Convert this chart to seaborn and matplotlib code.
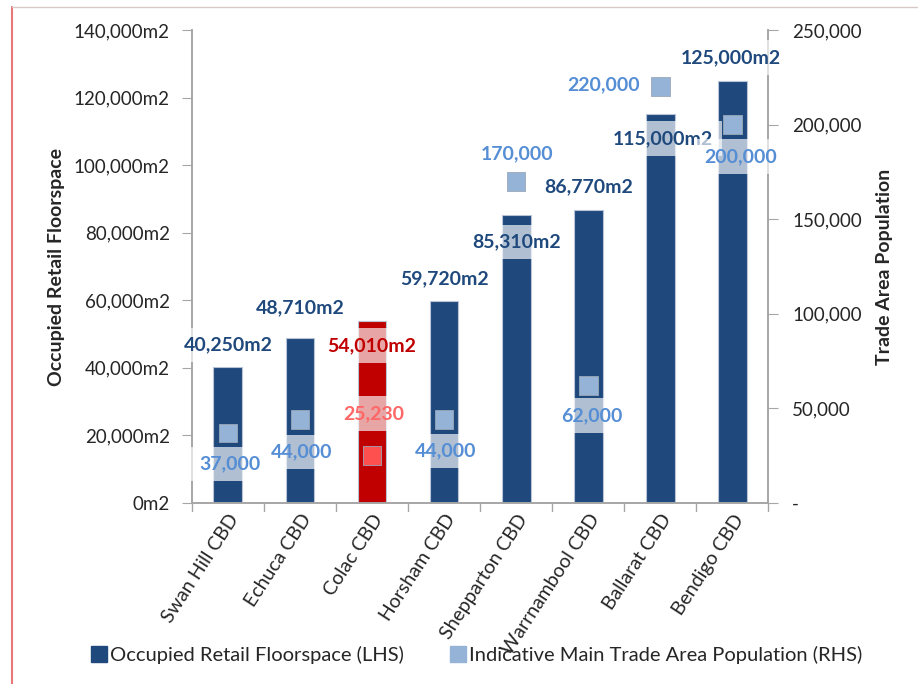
import numpy as np
import matplotlib
matplotlib.use("Agg")
import matplotlib.pyplot as plt
import seaborn as sns
from matplotlib.lines import Line2D
from matplotlib.ticker import FuncFormatter

# data
centres = ["Swan Hill CBD", "Echuca CBD", "Colac CBD", "Horsham CBD",
           "Shepparton CBD", "Warrnambool CBD", "Ballarat CBD", "Bendigo CBD"]
floorspace = [40250, 48710, 54010, 59720, 85310, 86770, 115000, 125000]
population = [37000, 44000, 25230, 44000, 170000, 62000, 220000, 200000]

# label offsets in pixels (dx, dy) as placed in the original
floor_lbl_off = [(0, 22), (0, 31), (0, -25), (0, 23), (0, -27), (0, 23), (3, -24), (-2, 23)]
pop_lbl_off = [(2, -31), (2, -32), (2, 42), (2, -31), (1, 28), (4, -30), (-57, 2), (8, -32)]

navy = "#1F497D"
red = "#C00000"
lightblue = "#95B3D7"
popred = "#FF5050"
bar_colors = [red if c == "Colac CBD" else navy for c in centres]
sq_colors = [popred if c == "Colac CBD" else lightblue for c in centres]

sns.set_style("white")
plt.rcParams["font.family"] = ["Lato", "DejaVu Sans"]

fig = plt.figure(figsize=(9.18, 6.84), dpi=100)
ax = fig.add_axes([0.209, 0.2646, 0.628, 0.6915])

sns.barplot(x=centres, y=floorspace, hue=centres, palette=bar_colors, saturation=1,
            legend=False, width=0.4, ax=ax, edgecolor="#B8C4D6", linewidth=0.8)
ax.set_ylim(0, 140000)
ax.set_xlim(-0.5, len(centres) - 0.5)
ax.yaxis.set_major_formatter(FuncFormatter(lambda v, p: f"{v:,.0f}m2"))
ax.set_yticks(np.arange(0, 140001, 20000))
ax.set_ylabel("Occupied Retail Floorspace", fontsize=14, fontweight="bold", labelpad=6)
ax.set_xlabel("")
ax.set_xticks(range(len(centres)))
ax.set_xticklabels(centres, rotation=57, ha="right", rotation_mode="anchor", fontsize=14)
ax.tick_params(axis="x", length=0, pad=6)
# ticks between categories
for b in np.arange(-0.5, len(centres), 1):
    ax.plot([b, b], [0, -0.017], transform=ax.get_xaxis_transform(),
            color="#A6A6A6", lw=1, clip_on=False)
ax.tick_params(axis="y", direction="out", length=7, color="#A6A6A6",
               labelsize=13.5, labelcolor="#262626", pad=9)

ax2 = ax.twinx()
ax2.set_ylim(0, 250000)
ax2.set_yticks(np.arange(0, 250001, 50000))
ax2.yaxis.set_major_formatter(FuncFormatter(lambda v, p: "-" if v == 0 else f"{v:,.0f}"))
ax2.tick_params(axis="y", direction="out", length=7, color="#A6A6A6",
                labelsize=13.5, labelcolor="#262626", pad=10)
ax2.set_ylabel("Trade Area Population", fontsize=14, fontweight="bold", labelpad=10)

xs = np.arange(len(centres))
sns.scatterplot(x=xs, y=population, hue=centres, palette=sq_colors, legend=False,
                marker="s", s=180, edgecolor="#9AA7B8", linewidth=0.6, ax=ax2, zorder=3)

for a in (ax, ax2):
    a.spines["top"].set_visible(False)
    for side in ("left", "right", "bottom"):
        a.spines[side].set_color("#A6A6A6")
        a.spines[side].set_linewidth(1.2)

box = dict(boxstyle="square,pad=0.45", facecolor="white", edgecolor="none", alpha=0.65)

for i, (v, off) in enumerate(zip(floorspace, floor_lbl_off)):
    y2 = v / 140000 * 250000
    ax2.annotate(f"{v:,}m2", (xs[i], y2), xytext=off, textcoords="offset pixels",
                 ha="center", va="center", fontsize=14, fontweight="bold",
                 color=red if centres[i] == "Colac CBD" else navy, bbox=box, zorder=5)

for i, (v, off) in enumerate(zip(population, pop_lbl_off)):
    ax2.annotate(f"{v:,}", (xs[i], v), xytext=off, textcoords="offset pixels",
                 ha="center", va="center", fontsize=14, fontweight="bold",
                 color="#FF6666" if centres[i] == "Colac CBD" else "#558ED5",
                 bbox=box, zorder=5)

handles = [Line2D([], [], marker="s", ls="", color=navy, markersize=11),
           Line2D([], [], marker="s", ls="", color=lightblue, markersize=11)]
fig.legend(handles, ["Occupied Retail Floorspace (LHS)",
                     "Indicative Main Trade Area Population (RHS)"],
           loc="center", bbox_to_anchor=(0.518, 0.043), ncol=2, frameon=False,
           fontsize=14.5, handletextpad=0.05, columnspacing=2.2, handlelength=1.0)

# chart frame edges
fig.add_artist(Line2D([0.013, 0.013], [0, 0.99], transform=fig.transFigure,
                      color="#E8777A", lw=1.5))
fig.add_artist(Line2D([0.013, 1.0], [0.99, 0.99], transform=fig.transFigure,
                      color="#D9C8C8", lw=1.0))

fig.savefig("out.png", dpi=100)
